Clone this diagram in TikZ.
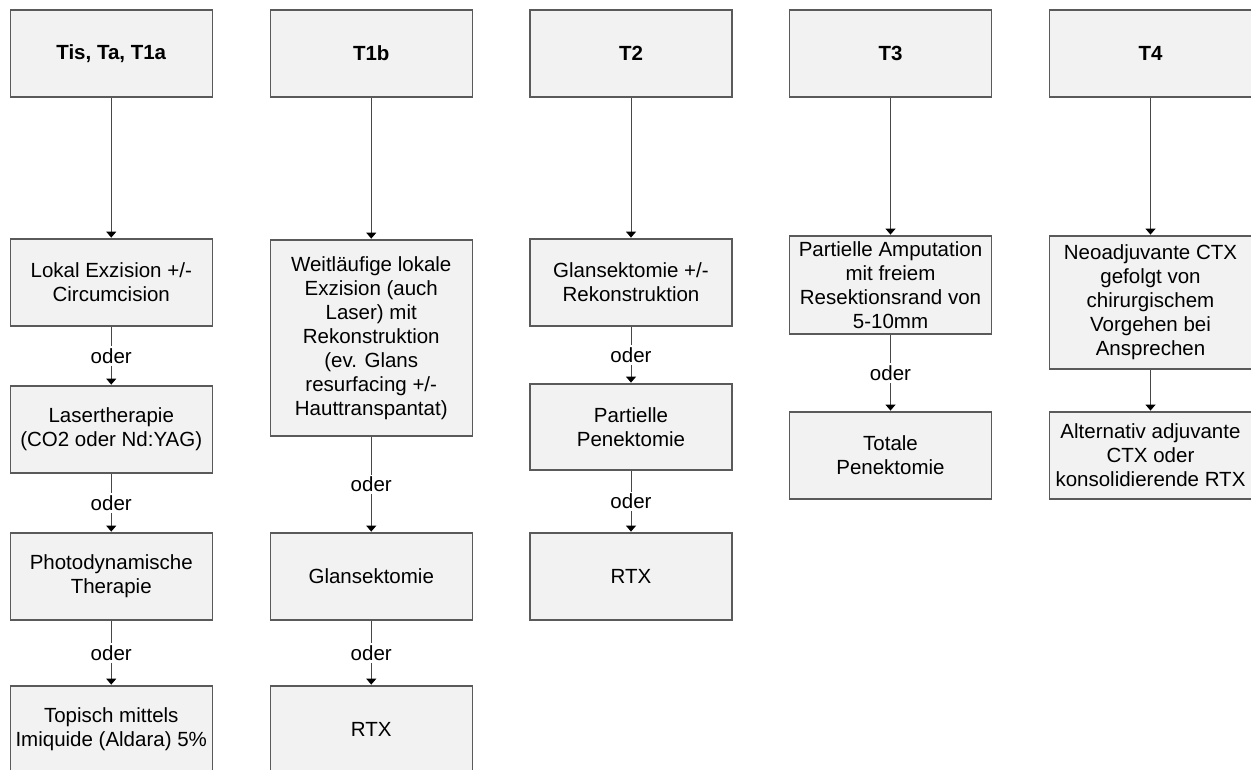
\documentclass[tikz,border=0pt]{standalone}
\usepackage{fontspec}
\setmainfont{Liberation Sans}
\usetikzlibrary{arrows.meta}
\definecolor{boxfill}{HTML}{F2F2F2}
\definecolor{boxline}{HTML}{5A5A5A}
\definecolor{arrline}{HTML}{474747}
\tikzset{
  x=1pt, y=-1pt,
  box/.style={draw=boxline, line width=1.4pt, fill=boxfill, minimum width=202pt, inner sep=0pt,
    align=center, font=\fontsize{20.5}{24}\selectfont, text=black},
  hdr/.style={box, minimum height=87pt, font=\fontsize{20.5}{24}\selectfont\bfseries},
  conn/.style={draw=arrline, line width=1pt, -{Triangle[length=6pt,width=10pt,fill=black,color=black]}, shorten >=0.7pt},
  orlab/.style={fill=white, inner sep=2pt, font=\fontsize{20.5}{24}\selectfont, text=black}
}
\begin{document}
\begin{tikzpicture}
\clip (0,0) rectangle (1251,769);
\fill[white] (0,0) rectangle (1251,769);
% column 1
\node[hdr] (h1) at (111.25,53.5) {Tis, Ta, T1a};
\node[box, minimum height=87pt] (a1) at (111.25,282.5) {Lokal Exzision +/-\\Circumcision};
\node[box, minimum height=87pt] (a2) at (111.25,429.5) {Lasertherapie\\(CO2 oder Nd:YAG)};
\node[box, minimum height=87pt] (a3) at (111.25,576.5) {Photodynamische\\Therapie};
\node[box, minimum height=87pt] (a4) at (111.25,729.5) {Topisch mittels\\Imiquide (Aldara) 5\%};
% column 2
\node[hdr] (h2) at (371.25,53.5) {T1b};
\node[box, minimum height=196pt] (b1) at (371.25,338) {Weitläufige lokale\\Exzision (auch\\Laser) mit\\Rekonstruktion\\(ev. Glans\\resurfacing +/-\\Hauttranspantat)};
\node[box, minimum height=87pt] (b2) at (371.25,576.5) {Glansektomie};
\node[box, minimum height=87pt] (b3) at (371.25,729.5) {RTX};
% column 3
\node[hdr] (h3) at (631,53.5) {T2};
\node[box, minimum height=87pt] (c1) at (631,282.5) {Glansektomie +/-\\Rekonstruktion};
\node[box, minimum height=86pt] (c2) at (631,427) {Partielle\\Penektomie};
\node[box, minimum height=87pt] (c3) at (631,576.5) {RTX};
% column 4
\node[hdr] (h4) at (890.5,53.5) {T3};
\node[box, minimum height=98pt] (d1) at (890.5,285) {Partielle Amputation\\mit freiem\\Resektionsrand von\\5-10mm};
\node[box, minimum height=87pt] (d2) at (890.5,455.5) {Totale\\Penektomie};
% column 5
\node[hdr] (h5) at (1150.5,53.5) {T4};
\node[box, minimum height=133pt] (e1) at (1150.5,302.5) {Neoadjuvante CTX\\gefolgt von\\chirurgischem\\Vorgehen bei\\Ansprechen};
\node[box, minimum height=87pt] (e2) at (1150.5,455.5) {Alternativ adjuvante\\CTX oder\\konsolidierende RTX};
% connectors
\draw[conn] (h1) -- (a1);
\draw[conn] (a1) -- node[orlab] {oder} (a2);
\draw[conn] (a2) -- node[orlab] {oder} (a3);
\draw[conn] (a3) -- node[orlab] {oder} (a4);
\draw[conn] (h2) -- (b1);
\draw[conn] (b1) -- node[orlab] {oder} (b2);
\draw[conn] (b2) -- node[orlab] {oder} (b3);
\draw[conn] (h3) -- (c1);
\draw[conn] (c1) -- node[orlab] {oder} (c2);
\draw[conn] (c2) -- node[orlab] {oder} (c3);
\draw[conn] (h4) -- (d1);
\draw[conn] (d1) -- node[orlab] {oder} (d2);
\draw[conn] (h5) -- (e1);
\draw[conn] (e1) -- (e2);
\end{tikzpicture}
\end{document}
